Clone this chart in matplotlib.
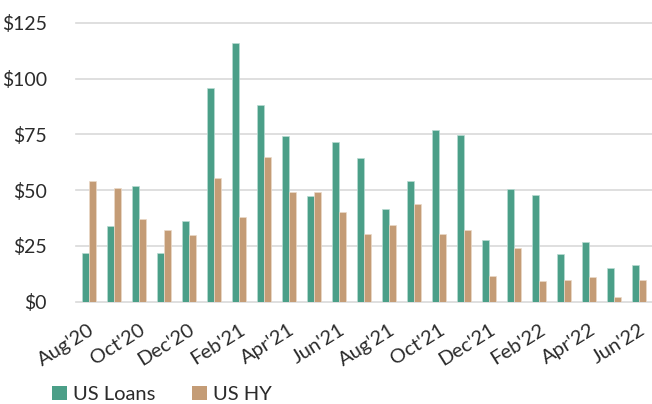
import matplotlib
matplotlib.use("Agg")
import matplotlib.pyplot as plt
import numpy as np
from matplotlib.patches import Patch

months = ["Aug'20", "Sep'20", "Oct'20", "Nov'20", "Dec'20", "Jan'21", "Feb'21",
          "Mar'21", "Apr'21", "May'21", "Jun'21", "Jul'21", "Aug'21", "Sep'21",
          "Oct'21", "Nov'21", "Dec'21", "Jan'22", "Feb'22", "Mar'22", "Apr'22",
          "May'22", "Jun'22"]
us_loans = [22, 34, 52, 22, 36, 96, 116, 88, 74.5, 47.5, 71.8, 64.5, 41.5, 54.3,
            77.2, 74.8, 27.5, 50.7, 47.8, 21.5, 26.8, 15.3, 16.3]
us_hy = [54, 51, 37, 32, 30, 55.5, 38, 64.7, 49.3, 49, 40.3, 30.3, 34.4, 43.7,
         30.3, 32.3, 11.5, 24.1, 9.4, 9.8, 10.9, 2.2, 9.6]
y_ticks = [0, 25, 50, 75, 100, 125]

GREEN = "#4B9F88"
TAN = "#C49C76"
GRID = "#D9D9D9"
TEXT = "#2B2B2B"
FS = 14.5

plt.rcParams["font.family"] = ["Lato", "DejaVu Sans"]

fig = plt.figure(figsize=(6.52, 4.04), dpi=100)
ax = fig.add_axes([76 / 652, 1 - 301.7 / 404, 576 / 652, (301.7 - 23) / 404])

x = np.arange(len(months))
w = 0.28
ax.bar(x - w / 2, us_loans, width=w, color=GREEN, edgecolor="#B9DCD2",
       linewidth=0.5, zorder=3, label="US Loans")
ax.bar(x + w / 2, us_hy, width=w, color=TAN, edgecolor="#EBD9C8",
       linewidth=0.5, zorder=3, label="US HY")

ax.set_xlim(-0.5, len(months) - 0.5)
ax.set_ylim(0, 125)
ax.set_yticks(y_ticks)
ax.set_yticklabels([f"${v}" for v in y_ticks], fontsize=14, color=TEXT)
for v in y_ticks:
    ax.axhline(v, color=GRID, linewidth=1.2, zorder=1, clip_on=False)

ax.set_xticks(x[::2])
ax.set_xticklabels(months[::2], fontsize=FS, color=TEXT, rotation=32,
                   ha="right", va="top", rotation_mode="anchor")
ax.tick_params(axis="x", length=0, pad=14)
ax.tick_params(axis="y", length=0, pad=21)
for s in ax.spines.values():
    s.set_visible(False)

handles = [Patch(facecolor=GREEN, edgecolor="none", label="US Loans"),
           Patch(facecolor=TAN, edgecolor="none", label="US HY")]
fig.legend(handles=handles, loc="lower left", bbox_to_anchor=(52 / 652, 1 / 404),
           frameon=False, fontsize=FS, ncol=2, handlelength=0.75,
           handleheight=0.75, handletextpad=0.3, columnspacing=1.8,
           borderpad=0, borderaxespad=0, labelcolor=TEXT)

fig.savefig("out.png", dpi=100)
